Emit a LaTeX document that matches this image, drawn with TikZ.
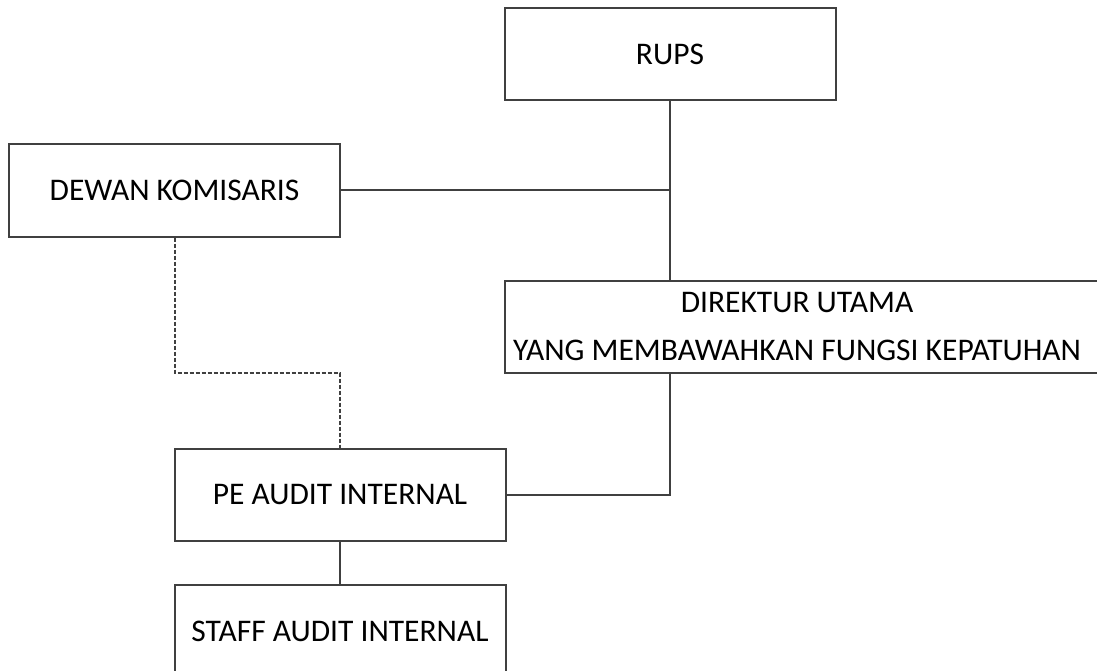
\documentclass[tikz,border=0pt]{standalone}
\usepackage{fontspec}
\setmainfont{Carlito}
\begin{document}
\begin{tikzpicture}[x=1pt,y=-1pt,
  box/.style={draw=linecol,line width=2pt,fill=white,minimum width=331pt,minimum height=92pt,inner sep=0pt,font=\fontsize{31.5}{38}\selectfont},
  conn/.style={draw=linecol,line width=2pt},
  dashconn/.style={draw=linecol,line width=1.5pt,dash pattern=on 4pt off 2pt}]
\definecolor{linecol}{HTML}{404040}
\useasboundingbox (0,0) rectangle (1097,671);
\clip (0,0) rectangle (1097,671);
\node[box] (rups) at (670,54) {RUPS};
\node[box] (dewan) at (174.5,190.5) {DEWAN KOMISARIS};
\node[box,minimum width=615pt] (dirbox) at (812.5,327) {};
\node[align=center,font=\fontsize{31.5}{48}\selectfont,inner sep=0pt] (dir) at (797,327) {DIREKTUR UTAMA\\YANG MEMBAWAHKAN FUNGSI KEPATUHAN};
\node[box] (pe) at (340,494.5) {PE AUDIT INTERNAL};
\node[box] (staff) at (340,631) {STAFF AUDIT INTERNAL};
\coordinate (j1) at (670,190.5);
\coordinate (d1) at (175,373);
\coordinate (d2) at (340,373);
\draw[conn] (rups.south) -- (rups.south |- dirbox.north);
\draw[conn] (dewan.east) -- (j1);
\draw[conn] (rups.south |- dirbox.south) |- (pe.east);
\draw[dashconn] (dewan.south -| d1) -- (d1) -- (d2) -- (pe.north);
\draw[conn] (pe.south) -- (staff.north);
\end{tikzpicture}
\end{document}
